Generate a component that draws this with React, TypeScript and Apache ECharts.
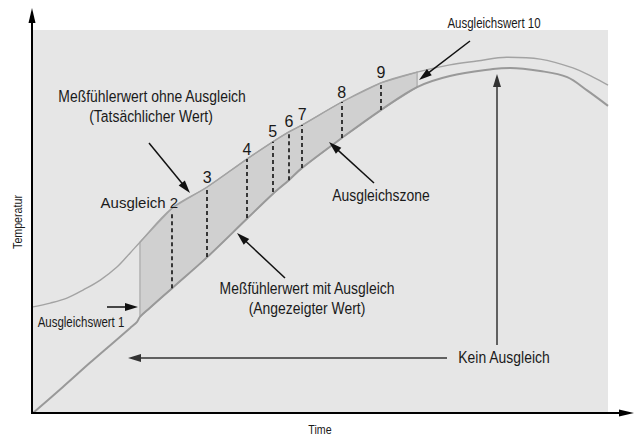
import React, { useEffect, useRef } from "react";
import * as echarts from "echarts";

// Curve data (time 0..100, temperature 0..100)
const upperX = [0, 3.0, 5.9, 8.7, 11.7, 14.6, 16.9, 18.6, 24.2, 30.3, 37.2, 41.7, 44.5, 46.8, 53.7, 60.5, 66.8, 72.5, 77.2, 82.4, 88.2, 93.9, 97.4, 100];
const upperY = [27.7, 28.7, 30.0, 32.1, 34.7, 38.1, 41.8, 44.6, 53.5, 59.0, 66.3, 70.8, 73.4, 75.2, 81.2, 86.2, 89.0, 90.9, 91.9, 92.9, 92.4, 90.1, 87.7, 85.6];
const lowerX = [0, 5.2, 9.9, 13.9, 16.9, 18.1, 18.6, 20.3, 24.2, 30.3, 37.2, 41.7, 44.5, 46.8, 53.7, 60.5, 66.8, 72.5, 80.0, 83.0, 88.2, 92.9, 96.3, 100];
const lowerY = [0, 6.8, 13.1, 18.3, 22.2, 23.8, 25.1, 27.4, 32.6, 40.7, 50.7, 57.2, 60.8, 64.0, 71.8, 79.1, 85.1, 88.0, 89.8, 90.1, 89.3, 87.7, 84.3, 80.2];
const bandStart = 18.6;
const bandEnd = 66.8;

// Compensation points
const dashX = [24.2, 30.3, 37.2, 41.7, 44.5, 46.8, 53.7, 60.5];
const dashTop = [52.5, 59.0, 66.3, 70.8, 73.4, 75.2, 81.2, 86.2];
const dashBottom = [32.6, 40.7, 50.9, 57.7, 60.8, 64.0, 71.8, 79.1];
const dashLabels = ["Ausgleich 2", "3", "4", "5", "6", "7", "8", "9"];

const FONT = "'Liberation Sans', Arial, sans-serif";
const TXT = "#1a1a1a";
const CONDENSE = 0.82;

type Ann = { text: string; x: number; y: number; size: number; rot?: number };
const annTexts: Ann[] = [
  { text: "Meßfühlerwert ohne Ausgleich", x: 152, y: 96, size: 17 },
  { text: "(Tatsächlicher Wert)", x: 151, y: 116, size: 17 },
  { text: "Ausgleichszone", x: 381, y: 195, size: 17 },
  { text: "Ausgleichswert 10", x: 494, y: 23, size: 14 },
  { text: "Kein Ausgleich", x: 504, y: 357, size: 17 },
  { text: "Meßfühlerwert mit Ausgleich", x: 307, y: 288, size: 17 },
  { text: "(Angezeigter Wert)", x: 307, y: 308, size: 17 },
  { text: "Ausgleichswert 1", x: 81, y: 322, size: 14 },
  { text: "Temperatur", x: 18, y: 222, size: 13, rot: Math.PI / 2 },
  { text: "Time", x: 320, y: 430, size: 13 },
];

type Arr = { x1: number; y1: number; x2: number; y2: number; color: string; L?: number; w?: number; lw?: number };
const annArrows: Arr[] = [
  { x1: 149, y1: 143, x2: 190, y2: 193, color: "#111" },
  { x1: 374, y1: 183, x2: 329, y2: 142, color: "#111" },
  { x1: 470, y1: 41, x2: 419, y2: 80, color: "#111" },
  { x1: 497, y1: 345, x2: 497, y2: 74, color: "#333" },
  { x1: 447, y1: 358, x2: 128, y2: 358, color: "#333" },
  { x1: 285, y1: 278, x2: 237, y2: 233, color: "#111" },
  { x1: 107, y1: 307, x2: 138, y2: 307, color: "#111" },
  { x1: 32, y1: 414, x2: 32, y2: 8, color: "#000", L: 15, w: 3.5, lw: 2 },
  { x1: 31, y1: 413, x2: 634, y2: 413, color: "#000", L: 15, w: 3.5, lw: 2 },
];

function arrowEls(a: Arr) {
  const L = a.L ?? 13;
  const w = a.w ?? 4;
  const lw = a.lw ?? 1.5;
  const dx = a.x2 - a.x1;
  const dy = a.y2 - a.y1;
  const len = Math.hypot(dx, dy);
  const ux = dx / len;
  const uy = dy / len;
  const bx = a.x2 - ux * L;
  const by = a.y2 - uy * L;
  const nx = -uy;
  const ny = ux;
  return [
    {
      type: "line",
      z: 100,
      silent: true,
      shape: { x1: a.x1, y1: a.y1, x2: bx + ux * 2, y2: by + uy * 2 },
      style: { stroke: a.color, lineWidth: lw },
    },
    {
      type: "polygon",
      z: 100,
      silent: true,
      shape: { points: [[a.x2, a.y2], [bx + nx * w, by + ny * w], [bx - nx * w, by - ny * w]] },
      style: { fill: a.color },
    },
  ];
}

export default function App() {
  const ref = useRef<HTMLDivElement>(null);
  useEffect(() => {
    if (!ref.current) return;
    const chart = echarts.init(ref.current, undefined, { renderer: "svg" });

    const upperData = upperX.map((x, i) => [x, upperY[i]]);
    const lowerData = lowerX.map((x, i) => [x, lowerY[i]]);
    const bandTop = upperData.filter((p) => p[0] >= bandStart && p[0] <= bandEnd);
    const bandBottom = lowerData.filter((p) => p[0] >= bandStart && p[0] <= bandEnd).reverse();

    const graphics: any[] = [];
    annArrows.forEach((a) => graphics.push(...arrowEls(a)));
    annTexts.forEach((t) =>
      graphics.push({
        type: "text",
        z: 100,
        silent: true,
        x: t.x,
        y: t.y,
        scaleX: CONDENSE,
        rotation: t.rot ?? 0,
        style: {
          text: t.text,
          fill: TXT,
          fontSize: t.size,
          fontFamily: FONT,
          align: "center",
          verticalAlign: "middle",
          textAlign: "center",
          textVerticalAlign: "middle",
        },
      })
    );

    chart.setOption({
      animation: false,
      grid: {
        left: 33,
        right: 31,
        top: 30,
        bottom: 25,
        show: true,
        backgroundColor: "#e6e6e6",
        borderWidth: 0,
      },
      xAxis: { type: "value", min: 0, max: 100, show: false },
      yAxis: { type: "value", min: 0, max: 100, show: false },
      series: [
        {
          type: "custom",
          silent: true,
          z: 1,
          data: [0],
          renderItem: (_params: any, api: any) => {
            const pts = [...bandTop, ...bandBottom].map((p) => api.coord(p));
            return {
              type: "polygon",
              shape: { points: pts },
              style: { fill: "#d0d0d0", stroke: "#a8a8a8", lineWidth: 1.2 },
            };
          },
        },
        {
          type: "line",
          name: "ohne Ausgleich",
          data: upperData,
          smooth: 0.35,
          symbol: "none",
          z: 3,
          lineStyle: { color: "#a3a3a3", width: 1.4 },
        },
        {
          type: "line",
          name: "mit Ausgleich",
          data: lowerData,
          smooth: 0.35,
          symbol: "none",
          z: 3,
          lineStyle: { color: "#999999", width: 2 },
        },
        {
          type: "scatter",
          z: 5,
          symbolSize: 0,
          silent: true,
          itemStyle: { opacity: 1, color: TXT },
          data: dashX.map((x, i) => ({
            value: [x, dashTop[i]],
            label: i === 0 ? { align: "right", offset: [6, 0], fontSize: 15 } : {},
          })),
          label: {
            show: true,
            position: "top",
            distance: 2,
            color: TXT,
            opacity: 1,
            fontSize: 16,
            fontFamily: FONT,
            formatter: (p: any) => dashLabels[p.dataIndex],
          },
          markLine: {
            silent: true,
            symbol: ["none", "none"],
            label: { show: false },
            lineStyle: { color: "#111", width: 1.6, type: [4, 3], opacity: 1 },
            data: dashX.map((x, i) => [
              { coord: [x, dashBottom[i]] },
              { coord: [x, dashTop[i]] },
            ]),
          },
        },
      ],
      graphic: graphics,
    });
    return () => chart.dispose();
  }, []);
  return <div ref={ref} style={{ width: 639, height: 438, position: "absolute", left: 0, top: 0 }} />;
}
